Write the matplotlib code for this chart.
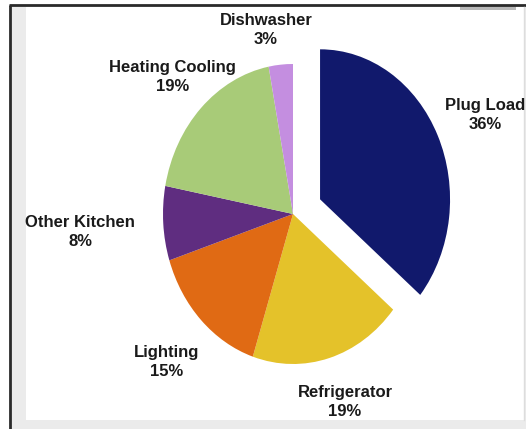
import matplotlib
matplotlib.use("Agg")
import matplotlib.pyplot as plt
from matplotlib.patches import Rectangle

categories = ["Plug Load", "Refrigerator", "Lighting", "Other Kitchen", "Heating Cooling", "Dishwasher"]
values = [36, 19, 15, 8, 19, 3]
colors = ["#11196c", "#e4c22a", "#e06a14", "#5f2d80", "#a8cb78", "#c48ee0"]
explode = [0.23, 0, 0, 0, 0, 0]
label_pos = [(1.477, 0.66), (0.40, -1.253), (-0.973, -0.987), (-1.638, -0.12), (-0.927, 0.913), (-0.208, 1.227)]

W, H = 526, 429
fig = plt.figure(figsize=(W / 100, H / 100), dpi=100)
fig.patch.set_facecolor("white")

# background frame (pixel coordinates)
bg = fig.add_axes([0, 0, 1, 1])
bg.set_xlim(0, W)
bg.set_ylim(H, 0)
bg.axis("off")
bg.add_patch(Rectangle((10, 5), W - 10, H - 5, facecolor="#ebebeb", edgecolor="none"))
bg.add_patch(Rectangle((26, 7), W - 28, 413, facecolor="white", edgecolor="none"))
bg.add_patch(Rectangle((460, 6), 56, 4, facecolor="#b8b8b8", edgecolor="none"))
bg.plot([10, 10], [5, H], color="#2a2a2a", lw=2, solid_capstyle="butt")
bg.plot([9, W], [5, 5], color="#2a2a2a", lw=2, solid_capstyle="butt")
bg.plot([524, 524], [7, 420], color="#dddddd", lw=1)

ax = fig.add_axes([0, 0, 1, 1])
ax.patch.set_alpha(0)
wedges, _ = ax.pie(values, colors=colors, explode=explode, startangle=90,
                   counterclock=False, wedgeprops=dict(linewidth=0))
ax.set_aspect("auto")
cx, cy, rx, ry = 293, 214, 130, 150
ax.set_xlim(-cx / rx, (W - cx) / rx)
ax.set_ylim((cy - H) / ry, cy / ry)
ax.axis("off")

for name, v, (x, y) in zip(categories, values, label_pos):
    ax.text(x, y, f"{name}\n{v}%", ha="center", va="center", fontsize=12,
            fontweight="bold", family="Liberation Sans", color="#1a1a1a",
            linespacing=1.4)

fig.savefig("out.png", dpi=100)
